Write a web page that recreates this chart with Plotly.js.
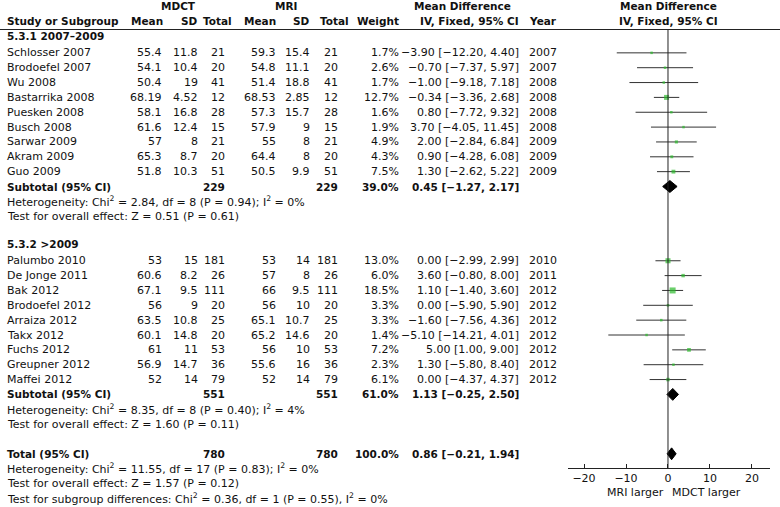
<!DOCTYPE html>
<html><head><meta charset="utf-8">
<script src="https://cdn.plot.ly/plotly-3.0.1.min.js"></script>
<style>html,body{margin:0;padding:0;background:#fff}</style>
</head><body><div id="chart" style="width:780px;height:507px"></div>
<script>
// ---------- data ----------
const groupLabels = ["5.3.1 2007\u20132009", "5.3.2 >2009"];
const studyGroup = [0,0,0,0,0,0,0,0,0,1,1,1,1,1,1,1,1,1];
const studies = ["Schlosser 2007","Brodoefel 2007","Wu 2008","Bastarrika 2008","Puesken 2008","Busch 2008","Sarwar 2009","Akram 2009","Guo 2009","Palumbo 2010","De Jonge 2011","Bak 2012","Brodoefel 2012","Arraiza 2012","Takx 2012","Fuchs 2012","Greupner 2012","Maffei 2012"];
const mdctMean = [55.4,54.1,50.4,68.19,58.1,61.6,57,65.3,51.8,53,60.6,67.1,56,63.5,60.1,61,56.9,52];
const mdctSD   = [11.8,10.4,19,4.52,16.8,12.4,8,8.7,10.3,15,8.2,9.5,9,10.8,14.8,11,14.7,14];
const mdctN    = [21,20,41,12,28,15,21,20,51,181,26,111,20,25,20,53,36,79];
const mriMean  = [59.3,54.8,51.4,68.53,57.3,57.9,55,64.4,50.5,53,57,66,56,65.1,65.2,56,55.6,52];
const mriSD    = [15.4,11.1,18.8,2.85,15.7,9,8,8,9.9,14,8,9.5,10,10.7,14.6,10,16,14];
const mriN     = [21,20,41,12,28,15,21,20,51,181,26,111,20,25,20,53,36,79];
const weight   = [1.7,2.6,1.7,12.7,1.6,1.9,4.9,4.3,7.5,13.0,6.0,18.5,3.3,3.3,1.4,7.2,2.3,6.1];
const md       = [-3.90,-0.70,-1.00,-0.34,0.80,3.70,2.00,0.90,1.30,0.00,3.60,1.10,0.00,-1.60,-5.10,5.00,1.30,0.00];
const ciLow    = [-12.20,-7.37,-9.18,-3.36,-7.72,-4.05,-2.84,-4.28,-2.62,-2.99,-0.80,-1.40,-5.90,-7.56,-14.21,1.00,-5.80,-4.37];
const ciHigh   = [4.40,5.97,7.18,2.68,9.32,11.45,6.84,6.08,5.22,2.99,8.00,3.60,5.90,4.36,4.01,9.00,8.40,4.37];
const year     = [2007,2007,2008,2008,2008,2008,2009,2009,2009,2010,2011,2012,2012,2012,2012,2012,2012,2012];

const subMdctN = [229, 551];
const subMriN  = [229, 551];
const subWeight = [39.0, 61.0];
const subMD   = [0.45, 1.13];
const subLow  = [-1.27, -0.25];
const subHigh = [2.17, 2.50];
const subHet = ["Heterogeneity: Chi<sup>2</sup> = 2.84, df = 8 (P = 0.94); I<sup>2</sup> = 0%",
                "Heterogeneity: Chi<sup>2</sup> = 8.35, df = 8 (P = 0.40); I<sup>2</sup> = 4%"];
const subEffect = ["Test for overall effect: Z = 0.51 (P = 0.61)",
                   "Test for overall effect: Z = 1.60 (P = 0.11)"];

const totalMdctN = 780, totalMriN = 780, totalWeight = 100.0;
const totalMD = 0.86, totalLow = -0.21, totalHigh = 1.94;
const totalNotes = ["Heterogeneity: Chi<sup>2</sup> = 11.55, df = 17 (P = 0.83); I<sup>2</sup> = 0%",
                    "Test for overall effect: Z = 1.57 (P = 0.12)",
                    "Test for subgroup differences: Chi<sup>2</sup> = 0.36, df = 1 (P = 0.55), I<sup>2</sup> = 0%"];
const xTicks = [-20, -10, 0, 10, 20];
const axisLeftLabel = "MRI larger", axisRightLabel = "MDCT larger";

// ---------- layout helpers ----------
const W = 780, H = 507, ROW = 14.85, ROW0 = 38;
const yTop = -ROW0 / ROW, yBot = yTop + H / ROW;
const FONT = "DejaVu Sans";
const FS = 11, FSB = 10.5;
const px = p => p / W;
const py = p => 1 - p / H;
const col = {study:5, m1:164, s1:200, n1:227, m2:278, s2:312, n2:340, w:401, ci:521, yr:527};
const hcol = {m1:165, s1:200, n1:234, m2:278, s2:312, n2:351, w:401};
const fmt = v => (v < 0 ? "\u2212" : "") + Math.abs(v).toFixed(2);
const ciText = (m,l,h) => fmt(m) + " [" + fmt(l) + ", " + fmt(h) + "]";

const ann = [];
function txt(x, row, text, anchor, bold, yref) {
  ann.push({xref:'paper', yref: yref || 'y', x: px(x), y: row, text: bold ? '<b>'+text+'</b>' : text,
    xanchor: anchor, yanchor:'middle', showarrow:false,
    font:{family:FONT, size: bold ? FSB : FS, color:'#111'}});
}

// header
txt(178, py(6), "MDCT", 'center', true, 'paper');
txt(286, py(6), "MRI", 'center', true, 'paper');
txt(462, py(6), "Mean Difference", 'center', true, 'paper');
txt(668, py(6), "Mean Difference", 'center', true, 'paper');
const hy = py(21);
txt(col.study, hy, "Study or Subgroup", 'left', true, 'paper');
txt(hcol.m1, hy, "Mean", 'right', true, 'paper');
txt(hcol.s1, hy, "SD", 'right', true, 'paper');
txt(hcol.n1, hy, "Total", 'right', true, 'paper');
txt(hcol.m2, hy, "Mean", 'right', true, 'paper');
txt(hcol.s2, hy, "SD", 'right', true, 'paper');
txt(hcol.n2, hy, "Total", 'right', true, 'paper');
txt(hcol.w, hy, "Weight", 'right', true, 'paper');
txt(col.ci, hy, "IV, Fixed, 95% CI", 'right', true, 'paper');
txt(col.yr, hy, "Year", 'left', true, 'paper');
txt(668, hy, "IV, Fixed, 95% CI", 'center', true, 'paper');

// body rows
let row = 0;
const studyRow = [], subRow = [];
for (let g = 0; g < groupLabels.length; g++) {
  txt(col.study, row - 0.12, groupLabels[g], 'left', true);
  row++;
  studies.forEach((s, i) => {
    if (studyGroup[i] !== g) return;
    studyRow[i] = row;
    txt(col.study, row, s, 'left');
    txt(col.m1, row, String(mdctMean[i]), 'right');
    txt(col.s1, row, String(mdctSD[i]), 'right');
    txt(col.n1, row, String(mdctN[i]), 'right');
    txt(col.m2, row, String(mriMean[i]), 'right');
    txt(col.s2, row, String(mriSD[i]), 'right');
    txt(col.n2, row, String(mriN[i]), 'right');
    txt(col.w, row, weight[i].toFixed(1) + "%", 'right');
    txt(col.ci, row, ciText(md[i], ciLow[i], ciHigh[i]), 'right');
    txt(col.yr, row, String(year[i]), 'left');
    row++;
  });
  subRow[g] = row;
  txt(col.study, row, "Subtotal (95% CI)", 'left', true);
  txt(col.n1, row, String(subMdctN[g]), 'right', true);
  txt(col.n2, row, String(subMriN[g]), 'right', true);
  txt(col.w, row, subWeight[g].toFixed(1) + "%", 'right', true);
  txt(col.ci, row, ciText(subMD[g], subLow[g], subHigh[g]), 'right', true);
  row++;
  txt(col.study, row, subHet[g], 'left'); row++;
  txt(col.study, row, subEffect[g], 'left'); row++;
  row++;
}
const totalRow = row;
txt(col.study, row, "Total (95% CI)", 'left', true);
txt(col.n1, row, String(totalMdctN), 'right', true);
txt(col.n2, row, String(totalMriN), 'right', true);
txt(col.w, row, totalWeight.toFixed(1) + "%", 'right', true);
txt(col.ci, row, ciText(totalMD, totalLow, totalHigh), 'right', true);
row++;
totalNotes.forEach(t => { txt(col.study, row, t, 'left'); row++; });

// axis direction labels
ann.push({xref:'x', yref:'paper', x:0, y:py(492), text:axisLeftLabel, xanchor:'right', yanchor:'middle', xshift:-2, showarrow:false, font:{family:FONT, size:FS, color:'#111'}});
ann.push({xref:'x', yref:'paper', x:0, y:py(492), text:axisRightLabel, xanchor:'left', yanchor:'middle', xshift:2, showarrow:false, font:{family:FONT, size:FS, color:'#111'}});

// ---------- traces ----------
const ciX = [], ciY = [];
studies.forEach((s, i) => { ciX.push(ciLow[i], ciHigh[i], null); ciY.push(studyRow[i], studyRow[i], null); });
const traces = [];
traces.push({type:'scatter', mode:'lines', x:ciX, y:ciY, line:{color:'#333', width:1}, hoverinfo:'skip', cliponaxis:false});
traces.push({type:'scatter', mode:'markers', x:md, y:studyRow,
  marker:{symbol:'square', color:'#2cba2c', size: weight.map(w => Math.max(2.5, 14*Math.sqrt(w/100))), line:{width:0}},
  hoverinfo:'skip', cliponaxis:false});
function diamond(m, l, h, r) {
  const d = 0.4;
  traces.push({type:'scatter', mode:'lines', x:[l, m, h, m, l], y:[r, r - d, r, r + d, r],
    fill:'toself', fillcolor:'#000', line:{color:'#000', width:1}, hoverinfo:'skip', cliponaxis:false});
}
for (let g = 0; g < groupLabels.length; g++) diamond(subMD[g], subLow[g], subHigh[g], subRow[g]);
diamond(totalMD, totalLow, totalHigh, totalRow);

const layout = {
  width:W, height:H, margin:{l:0, r:0, t:0, b:0},
  paper_bgcolor:'#fff', plot_bgcolor:'rgba(0,0,0,0)', showlegend:false,
  font:{family:FONT, size:FS, color:'#111'},
  xaxis:{domain:[px(568), px(770)], range:[-23.81, 24.29], anchor:'free', position: 1 - 468/H,
    showline:true, linecolor:'#222', linewidth:1, ticks:'inside', ticklen:4, tickcolor:'#222',
    tickvals:xTicks, showgrid:false, zeroline:false, fixedrange:true,
    tickfont:{family:FONT, size:FS, color:'#111'}},
  yaxis:{domain:[0,1], range:[yBot, yTop], visible:false, fixedrange:true},
  shapes:[
    {type:'line', xref:'paper', yref:'paper', x0:0, x1:1, y0:py(29.5), y1:py(29.5), line:{color:'#222', width:1}},
    {type:'line', xref:'x', yref:'paper', x0:0, x1:0, y0:py(29.5), y1:py(468), line:{color:'#222', width:1}}
  ],
  annotations: ann
};
Plotly.newPlot('chart', traces, layout, {staticPlot:true, displayModeBar:false});
</script></body></html>
